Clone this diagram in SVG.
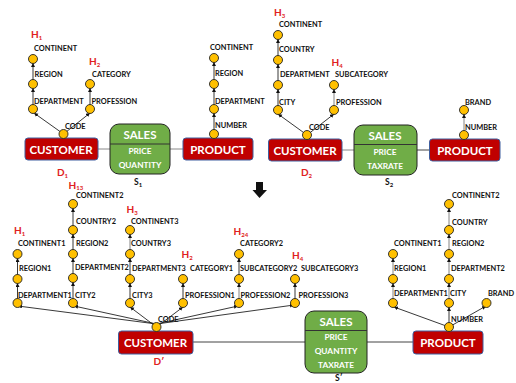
<svg xmlns="http://www.w3.org/2000/svg" width="516" height="383" viewBox="0 0 516 383">
<style>
text{font-family:Lato,"Open Sans","Liberation Sans",sans-serif}
.l{font-size:7.400px;font-weight:700;fill:#111}
.h{font-size:10px;font-weight:700;fill:#e02020}
.s{font-size:6px}
.k{font-size:8.500px;font-weight:700;fill:#111}
.t{font-size:11.500px;font-weight:700;fill:#fff;text-anchor:middle}
.m{font-size:8.300px;font-weight:700;fill:#fff;text-anchor:middle}
.d{fill:#c00000;stroke:#3f5f9f;stroke-width:1}
.f{fill:#70ad47;stroke:#222;stroke-width:1}
.n{fill:#ffc000;stroke:#222;stroke-width:.9}
.c line{stroke:#222;stroke-width:.9;marker-end:url(#a)}
.c .p{stroke:#444;stroke-width:1;marker-end:none}
.c .q{stroke:#888;stroke-width:1;marker-end:none}
.c .g{stroke:#777}
.b{stroke:#333;stroke-width:1}
</style>
<defs>
<marker id="a" markerUnits="userSpaceOnUse" markerWidth="5" markerHeight="5" refX="4" refY="2" orient="auto"><path d="M0 0L4 2L0 4Z" fill="#111"/></marker>
<circle id="o" r="4.500" class="n"/>
</defs>
<g id="connectors" class="c">
<line x1="33" y1="105" x2="33" y2="88"/><line x1="33" y1="80" x2="33" y2="63"/>
<line x1="90" y1="105" x2="90" y2="88"/>
<line x1="63.500" y1="134" x2="34" y2="113"/><line x1="63.500" y1="134" x2="90" y2="113"/>
<line x1="214" y1="130" x2="214" y2="113"/><line x1="214" y1="105" x2="214" y2="88"/><line x1="214" y1="80" x2="214" y2="62"/>
<line class="q" x1="98" y1="149" x2="110" y2="149"/><line class="q" x1="170" y1="149" x2="183" y2="149"/>
<line x1="278" y1="106" x2="278" y2="89"/><line x1="278" y1="81" x2="278" y2="64"/><line x1="278" y1="56" x2="278" y2="39"/>
<line class="g" x1="334" y1="106" x2="334" y2="89"/>
<line x1="307" y1="135" x2="278" y2="114"/><line x1="307" y1="135" x2="334" y2="114"/>
<line class="g" x1="464" y1="131" x2="464" y2="114"/>
<line class="q" x1="342" y1="150" x2="354" y2="150"/><line class="p" x1="417" y1="150" x2="430" y2="150"/>
<line x1="17.500" y1="299" x2="17.500" y2="283"/><line x1="17.500" y1="275" x2="17.500" y2="258"/>
<line x1="73" y1="299" x2="73" y2="282"/><line x1="73" y1="274" x2="73" y2="258"/><line x1="73" y1="250" x2="73" y2="234"/><line x1="73" y1="226" x2="73" y2="208"/>
<line x1="130" y1="299" x2="130" y2="283"/><line x1="130" y1="275" x2="130" y2="258"/><line class="g" x1="130" y1="250" x2="130" y2="234"/>
<line x1="183" y1="299" x2="183" y2="283"/>
<line class="g" x1="239" y1="299" x2="239" y2="283"/><line x1="239" y1="275" x2="239" y2="258"/>
<line x1="295" y1="299" x2="295" y2="283"/>
<line x1="156.500" y1="324" x2="18" y2="306"/><line x1="156.500" y1="324" x2="74" y2="306"/><line x1="156.500" y1="327" x2="130" y2="307"/><line x1="156.500" y1="327" x2="183" y2="307"/><line x1="156.500" y1="324" x2="238" y2="306"/><line x1="156.500" y1="324" x2="294" y2="305"/>
<line class="p" x1="193" y1="342" x2="305" y2="342"/><line class="p" x1="367" y1="342" x2="413" y2="342"/>
<line class="g" x1="449" y1="299" x2="449" y2="283"/><line class="g" x1="449" y1="275" x2="449" y2="258"/><line class="g" x1="449" y1="250" x2="449" y2="234"/><line class="g" x1="449" y1="226" x2="449" y2="208"/>
<line class="g" x1="393" y1="275" x2="393" y2="258"/><line class="g" x1="393" y1="299" x2="393" y2="283"/>
<line x1="449" y1="327" x2="449" y2="307"/><line x1="449" y1="327" x2="394" y2="307"/><line x1="449" y1="327" x2="486" y2="306"/>
</g>
<g id="s1-customer"><rect class="d" x="25" y="138" width="73" height="22" rx="3"/><text class="t" x="61" y="153.500">CUSTOMER</text></g>
<g id="s1-sales"><rect class="f" x="110" y="124" width="60" height="50" rx="9"/><line class="b" x1="110" y1="144" x2="170" y2="144"/><text class="t" x="140" y="139">SALES</text><text class="m" x="140" y="154">PRICE</text><text class="m" x="140" y="168">QUANTITY</text></g>
<g id="s1-product"><rect class="d" x="183" y="138" width="70" height="22" rx="3"/><text class="t" x="218" y="153.500">PRODUCT</text></g>
<g id="s2-customer"><rect class="d" x="268.500" y="139" width="73.500" height="22" rx="3"/><text class="t" x="305" y="154.500">CUSTOMER</text></g>
<g id="s2-sales"><rect class="f" x="354" y="125" width="63" height="50" rx="9"/><line class="b" x1="354" y1="144.500" x2="417" y2="144.500"/><text class="t" x="385" y="140">SALES</text><text class="m" x="385" y="155">PRICE</text><text class="m" x="385" y="169">TAXRATE</text></g>
<g id="s2-product"><rect class="d" x="429.500" y="139" width="70.500" height="22" rx="3"/><text class="t" x="465" y="154.500">PRODUCT</text></g>
<g id="s3-customer"><rect class="d" x="118.500" y="331" width="74.500" height="23" rx="3"/><text class="t" x="155.500" y="346.500">CUSTOMER</text></g>
<g id="s3-sales"><rect class="f" x="305" y="311" width="62" height="62" rx="9"/><line class="b" x1="305" y1="330.500" x2="367" y2="330.500"/><text class="t" x="336" y="326">SALES</text><text class="m" x="336" y="340">PRICE</text><text class="m" x="336" y="354">QUANTITY</text><text class="m" x="336" y="368">TAXRATE</text></g>
<g id="s3-product"><rect class="d" x="413" y="331" width="70" height="23" rx="3"/><text class="t" x="448" y="346.500">PRODUCT</text></g>
<g id="nodes">
<use href="#o" x="33" y="59"/><use href="#o" x="33" y="84"/><use href="#o" x="33" y="109"/><use href="#o" x="90" y="84"/><use href="#o" x="90" y="109"/><use href="#o" x="63.500" y="134"/>
<use href="#o" x="214" y="58"/><use href="#o" x="214" y="84"/><use href="#o" x="214" y="109"/><use href="#o" x="214" y="134"/>
<use href="#o" x="278" y="35"/><use href="#o" x="278" y="60"/><use href="#o" x="278" y="85"/><use href="#o" x="278" y="110"/><use href="#o" x="334" y="85"/><use href="#o" x="334" y="110"/><use href="#o" x="307" y="135"/>
<use href="#o" x="464" y="110"/><use href="#o" x="464" y="135"/>
<use href="#o" x="17.500" y="254"/><use href="#o" x="17.500" y="279"/><use href="#o" x="17.500" y="303"/>
<use href="#o" x="73" y="204"/><use href="#o" x="73" y="230"/><use href="#o" x="73" y="254"/><use href="#o" x="73" y="278"/><use href="#o" x="73" y="303"/>
<use href="#o" x="130" y="230"/><use href="#o" x="130" y="254"/><use href="#o" x="130" y="279"/><use href="#o" x="130" y="303"/>
<use href="#o" x="183" y="279"/><use href="#o" x="183" y="303"/>
<use href="#o" x="239" y="254"/><use href="#o" x="239" y="279"/><use href="#o" x="239" y="303"/>
<use href="#o" x="295" y="279"/><use href="#o" x="295" y="303"/><use href="#o" x="156.500" y="327"/>
<use href="#o" x="449" y="204"/><use href="#o" x="449" y="230"/><use href="#o" x="449" y="254"/><use href="#o" x="449" y="279"/><use href="#o" x="449" y="303"/><use href="#o" x="449" y="327"/>
<use href="#o" x="393" y="254"/><use href="#o" x="393" y="279"/><use href="#o" x="393" y="303"/><use href="#o" x="486.500" y="303"/>
</g>
<g id="labels">
<text class="l" x="34" y="51">CONTINENT</text><text class="l" x="34.500" y="77">REGION</text><text class="l" x="34" y="104">DEPARTMENT</text><text class="l" x="92" y="77">CATEGORY</text><text class="l" x="91.500" y="104">PROFESSION</text><text class="l" x="65" y="129">CODE</text>
<text class="l" x="210" y="50">CONTINENT</text><text class="l" x="215" y="76">REGION</text><text class="l" x="215" y="104">DEPARTMENT</text><text class="l" x="215" y="128">NUMBER</text>
<text class="l" x="279" y="27">CONTINENT</text><text class="l" x="279" y="52">COUNTRY</text><text class="l" x="280" y="77">DEPARTMENT</text><text class="l" x="335" y="77">SUBCATEGORY</text><text class="l" x="279" y="105">CITY</text><text class="l" x="336" y="105">PROFESSION</text><text class="l" x="309" y="130">CODE</text>
<text class="l" x="465" y="105">BRAND</text><text class="l" x="465" y="130">NUMBER</text>
<text class="l" x="18" y="246">CONTINENT1</text><text class="l" x="19" y="271">REGION1</text><text class="l" x="18" y="298">DEPARTMENT1</text>
<text class="l" x="76" y="198">CONTINENT2</text><text class="l" x="76" y="224">COUNTRY2</text><text class="l" x="76" y="246">REGION2</text><text class="l" x="75" y="270">DEPARTMENT2</text><text class="l" x="75" y="298">CITY2</text>
<text class="l" x="131" y="224">CONTINENT3</text><text class="l" x="131" y="246">COUNTRY3</text><text class="l" x="132" y="271">DEPARTMENT3</text><text class="l" x="132" y="298">CITY3</text>
<text class="l" x="190" y="271">CATEGORY1</text><text class="l" x="185" y="298">PROFESSION1</text>
<text class="l" x="240" y="246">CATEGORY2</text><text class="l" x="240" y="271">SUBCATEGORY2</text><text class="l" x="240.500" y="298">PROFESSION2</text>
<text class="l" x="301" y="271">SUBCATEGORY3</text><text class="l" x="298.500" y="298">PROFESSION3</text>
<text class="l" x="158" y="322">CODE</text>
<text class="l" x="452" y="198">CONTINENT2</text><text class="l" x="452" y="225">COUNTRY</text><text class="l" x="452" y="246">REGION2</text><text class="l" x="451" y="271">DEPARTMENT2</text><text class="l" x="450" y="296">CITY</text>
<text class="l" x="394" y="246">CONTINENT1</text><text class="l" x="394" y="271">REGION1</text><text class="l" x="394" y="296">DEPARTMENT1</text><text class="l" x="451" y="322">NUMBER</text><text class="l" x="488" y="296">BRAND</text>
<text class="h" x="31" y="38">H<tspan class="s" dy="2">1</tspan></text><text class="h" x="89" y="65">H<tspan class="s" dy="2">2</tspan></text><text class="h" x="274" y="16">H<tspan class="s" dy="2">3</tspan></text><text class="h" x="331.500" y="66">H<tspan class="s" dy="2">4</tspan></text>
<text class="h" x="57" y="176">D<tspan class="s" dy="2">1</tspan></text><text class="h" x="301" y="176">D<tspan class="s" dy="2">2</tspan></text>
<text class="k" x="134" y="185">S<tspan class="s" dy="2">1</tspan></text><text class="k" x="385" y="185">S<tspan class="s" dy="2">2</tspan></text>
<text class="h" x="68.500" y="189">H<tspan class="s" dy="1">13</tspan></text><text class="h" x="14" y="234">H<tspan class="s" dy="2">1</tspan></text><text class="h" x="126.500" y="213">H<tspan class="s" dy="2">3</tspan></text><text class="h" x="181.500" y="258">H<tspan class="s" dy="2">2</tspan></text><text class="h" x="233.500" y="235">H<tspan class="s" dy="2">24</tspan></text><text class="h" x="292" y="259">H<tspan class="s" dy="2">4</tspan></text>
<text class="h" x="153.500" y="365">D′</text><text class="k" x="335" y="381">S′</text>
</g>
<path id="arrow" d="M256 182H263V190H267L259.500 198L252.500 190H256Z" fill="#111"/>
</svg>
